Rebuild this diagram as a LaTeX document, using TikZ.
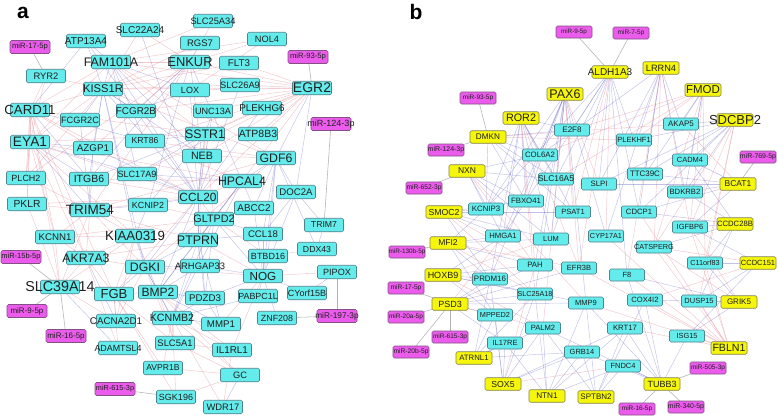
\documentclass[tikz,border=0pt]{standalone}
\usepackage{fontspec}
\setmainfont{Liberation Sans}
\pgfdeclarelayer{edges}
\pgfsetlayers{edges,main}
\definecolor{cyf}{RGB}{100,236,236}
\definecolor{cyd}{RGB}{80,130,140}
\definecolor{mgf}{RGB}{236,92,236}
\definecolor{mgd}{RGB}{130,80,130}
\definecolor{ylf}{RGB}{246,246,10}
\definecolor{yld}{RGB}{130,130,80}
\definecolor{ered}{RGB}{228,130,145}
\definecolor{eblu}{RGB}{100,100,200}
\tikzset{
 bx/.style={draw, rounded corners=1.5pt, line width=0.6pt, inner sep=0pt},
 ca/.style={bx, draw=cyd, fill=cyf, minimum width=39pt, minimum height=13.5pt},
 ma/.style={bx, draw=mgd, fill=mgf, minimum width=40pt, minimum height=13pt},
 cb/.style={bx, draw=cyd, fill=cyf, minimum width=35pt, minimum height=12pt},
 mb/.style={bx, draw=mgd, fill=mgf, minimum width=36pt, minimum height=12pt},
 yb/.style={bx, draw=yld, fill=ylf, minimum width=36pt, minimum height=12.5pt},
 txt/.style={inner sep=0pt, text=black!88},
 er/.style={ered, line width=0.45pt, opacity=0.45},
 eb/.style={eblu, line width=0.45pt, opacity=0.4},
 eg/.style={gray, line width=0.55pt, opacity=0.6},
 panel/.style={inner sep=0pt, font=\bfseries\fontsize{21}{21}\selectfont}
}
\newcommand\fs[1]{\fontsize{#1}{#1}\selectfont}
\newcommand\gn[6]{\node[#1] (#2) at (#3,#4) {}; \node[txt] (#2-t) at (#3,#4) {\fs{#5}#6};}
\newcommand\hub[3]{\foreach \tg in {#3} {\draw[#1] (#2.center) -- (\tg.center);}}
\begin{document}
\begin{tikzpicture}[x=1pt,y=-1pt]
\useasboundingbox (0,0) rectangle (778,418);
\node[panel] (la) at (23,13) {a};
\node[panel] (lb) at (416,12) {b};
% ---------- panel a nodes
\gn{ma}{mir17a}{30}{47}{7.7}{miR-17-5p}
\gn{ca}{atp13a4}{86}{41}{10}{ATP13A4}
\gn{ca}{slc22a24}{140}{30}{10}{SLC22A24}
\gn{ca}{slc25a34}{213}{21}{9.3}{SLC25A34}
\gn{ca}{rgs7}{200}{43}{9.5}{RGS7}
\gn{ca}{nol4}{267}{39}{9.2}{NOL4}
\gn{ca}{fam101a}{111}{62}{12.4}{FAM101A}
\gn{ca}{enkur}{190}{62}{12.9}{ENKUR}
\gn{ca}{flt3}{239}{63}{9.8}{FLT3}
\gn{ma}{mir93a}{308}{57}{7.7}{miR-93-5p}
\gn{ca}{ryr2}{46}{76}{9.4}{RYR2}
\gn{ca}{kiss1r}{103}{89}{11.2}{KISS1R}
\gn{ca}{lox}{190}{90}{9}{LOX}
\gn{ca}{slc26a9}{240}{85}{9.3}{SLC26A9}
\gn{ca}{egr2}{312}{88}{14}{EGR2}
\gn{ca}{card11}{30}{110}{13.2}{CARD11}
\gn{ca}{fcgr2c}{80}{120}{9.2}{FCGR2C}
\gn{ca}{fcgr2b}{136}{111}{9.9}{FCGR2B}
\gn{ca}{unc13a}{213}{111}{9.1}{UNC13A}
\gn{ca}{plekhg6}{262}{108}{9.8}{PLEKHG6}
\gn{ma}{mir124a}{331}{124}{9}{miR-124-3p}
\gn{ca}{sstr1}{205}{134}{12.4}{SSTR1}
\gn{ca}{atp8b3}{258}{134}{10.5}{ATP8B3}
\gn{ca}{eya1}{30}{142}{13.7}{EYA1}
\gn{ca}{azgp1}{93}{148}{9.8}{AZGP1}
\gn{ca}{krt86}{145}{141}{8.7}{KRT86}
\gn{ca}{neb}{202}{156}{10.7}{NEB}
\gn{ca}{gdf6}{276}{158}{12.3}{GDF6}
\gn{ca}{plch2}{26}{178}{9}{PLCH2}
\gn{ca}{itgb6}{89}{179}{10.5}{ITGB6}
\gn{ca}{slc17a9}{137}{174}{9.1}{SLC17A9}
\gn{ca}{hpcal4}{242}{181}{12.3}{HPCAL4}
\gn{ca}{doc2a}{296}{192}{9.6}{DOC2A}
\gn{ca}{ccl20}{198}{197}{11.9}{CCL20}
\gn{ca}{pklr}{27}{204}{10.3}{PKLR}
\gn{ca}{trim54}{90}{210}{13.5}{TRIM54}
\gn{ca}{kcnip2}{148}{205}{8.9}{KCNIP2}
\gn{ca}{abcc2}{254}{208}{9.9}{ABCC2}
\gn{ca}{gltpd2}{214}{219}{10.8}{GLTPD2}
\gn{ca}{ccl18}{263}{234}{9.6}{CCL18}
\gn{ca}{trim7}{324}{225}{8.7}{TRIM7}
\gn{ca}{kcnn1}{55}{237}{9.7}{KCNN1}
\gn{ca}{kiaa0319}{135}{236}{13.3}{KIAA0319}
\gn{ca}{ptprn}{198}{240}{12.4}{PTPRN}
\gn{ca}{ddx43}{317}{249}{8.7}{DDX43}
\gn{ma}{mir15b}{21}{257}{7.5}{miR-15b-5p}
\gn{ca}{akr7a3}{86}{258}{12.3}{AKR7A3}
\gn{ca}{dgki}{145}{267}{12.3}{DGKI}
\gn{ca}{arhgap33}{200}{266}{9.4}{ARHGAP33}
\gn{ca}{btbd16}{268}{256}{9}{BTBD16}
\gn{ca}{pipox}{337}{272}{9.1}{PIPOX}
\gn{ca}{nog}{263}{276}{11.7}{NOG}
\gn{ca}{slc39a14}{60}{287}{14.3}{SLC39A14}
\gn{ca}{fgb}{114}{294}{13.1}{FGB}
\gn{ca}{bmp2}{158}{292}{12.1}{BMP2}
\gn{ca}{pdzd3}{205}{298}{9.7}{PDZD3}
\gn{ca}{pabpc1l}{258}{296}{8.9}{PABPC1L}
\gn{ca}{cyorf15b}{307}{293}{9}{CYorf15B}
\gn{ma}{mir9a}{27}{311}{8}{miR-9-5p}
\gn{ca}{cacna2d1}{116}{321}{9.75}{CACNA2D1}
\gn{ca}{kcnmb2}{172}{318}{10.6}{KCNMB2}
\gn{ca}{mmp1}{221}{324}{9.7}{MMP1}
\gn{ca}{znf208}{277}{318}{8.9}{ZNF208}
\gn{ma}{mir197}{337}{316}{8.3}{miR-197-3p}
\gn{ma}{mir16a}{66}{336}{8}{miR-16-5p}
\gn{ca}{adamtsl4}{118}{348}{8.9}{ADAMTSL4}
\gn{ca}{slc5a1}{175}{343}{9.4}{SLC5A1}
\gn{ca}{il1rl1}{232}{350}{9.9}{IL1RL1}
\gn{ca}{avpr1b}{163}{368}{8.6}{AVPR1B}
\gn{ca}{gc}{240}{375}{9.3}{GC}
\gn{ma}{mir615a}{115}{389}{7.3}{miR-615-3p}
\gn{ca}{sgk196}{176}{397}{9}{SGK196}
\gn{ca}{wdr17}{223}{407}{9.4}{WDR17}
% ---------- panel b nodes
\gn{mb}{mir9b}{574}{32}{6.3}{miR-9-5p}
\gn{mb}{mir7b}{631}{33}{6.5}{miR-7-5p}
\gn{yb}{aldh1a3}{610}{72}{10}{ALDH1A3}
\gn{yb}{lrrn4}{661}{68}{9.2}{LRRN4}
\gn{yb}{pax6}{565}{94}{12.5}{PAX6}
\gn{yb}{fmod}{703}{90}{11.5}{FMOD}
\gn{mb}{mir93b}{478}{98}{6.5}{miR-93-5p}
\gn{yb}{ror2}{521}{118}{10.8}{ROR2}
\gn{yb}{sdcbp2}{735}{120}{13}{SDCBP2}
\gn{cb}{akap5}{681}{124}{8}{AKAP5}
\gn{cb}{e2f8}{572}{130}{8}{E2F8}
\gn{cb}{plekhf1}{634}{140}{7.5}{PLEKHF1}
\gn{yb}{dmkn}{488}{137}{8.2}{DMKN}
\gn{mb}{mir124b}{446}{150}{7}{miR-124-3p}
\gn{cb}{col6a2}{540}{155}{7.8}{COL6A2}
\gn{yb}{nxn}{467}{171}{8.5}{NXN}
\gn{cb}{slc16a5}{556}{179}{8.4}{SLC16A5}
\gn{cb}{slpi}{599}{184}{7.8}{SLPI}
\gn{cb}{ttc39c}{645}{174}{7.9}{TTC39C}
\gn{cb}{cadm4}{690}{160}{7.5}{CADM4}
\gn{mb}{mir769}{758}{157}{6.9}{miR-769-5p}
\gn{yb}{bcat1}{738}{184}{8.5}{BCAT1}
\gn{cb}{bdkrb2}{685}{192}{7.7}{BDKRB2}
\gn{mb}{mir652}{424}{188}{6.7}{miR-652-3p}
\gn{cb}{fbxo41}{526}{201}{7.8}{FBXO41}
\gn{cb}{kcnip3}{486}{209}{7.8}{KCNIP3}
\gn{yb}{smoc2}{444}{212}{8.7}{SMOC2}
\gn{cb}{psat1}{573}{212}{7.6}{PSAT1}
\gn{cb}{cdcp1}{639}{212}{7.7}{CDCP1}
\gn{cb}{igfbp6}{690}{227}{7.5}{IGFBP6}
\gn{yb}{ccdc28b}{735}{224}{7.7}{CCDC28B}
\gn{cb}{hmga1}{503}{236}{7.7}{HMGA1}
\gn{cb}{lum}{551}{239}{7.5}{LUM}
\gn{cb}{cyp17a1}{606}{236}{7.3}{CYP17A1}
\gn{cb}{catsperg}{654}{247}{7.3}{CATSPERG}
\gn{yb}{mfi2}{448}{243}{8.5}{MFI2}
\gn{mb}{mir130b}{407}{252}{6.4}{miR-130b-5p}
\gn{cb}{c11orf83}{705}{263}{7.3}{C11orf83}
\gn{yb}{ccdc151}{758}{263}{7.5}{CCDC151}
\gn{cb}{pah}{535}{265}{7.8}{PAH}
\gn{cb}{efr3b}{579}{268}{7.5}{EFR3B}
\gn{yb}{hoxb9}{443}{275}{9}{HOXB9}
\gn{cb}{prdm16}{490}{279}{7.9}{PRDM16}
\gn{cb}{f8}{627}{275}{7.5}{F8}
\gn{mb}{mir17b}{406}{288}{6.6}{miR-17-5p}
\gn{cb}{slc25a18}{535}{294}{7.2}{SLC25A18}
\gn{yb}{psd3}{450}{304}{9}{PSD3}
\gn{cb}{mmp9}{586}{303}{7.5}{MMP9}
\gn{cb}{cox4i2}{645}{300}{7.6}{COX4I2}
\gn{cb}{dusp15}{699}{301}{7.5}{DUSP15}
\gn{yb}{grik5}{739}{302}{8}{GRIK5}
\gn{mb}{mir20a}{406}{317}{6.5}{miR-20a-5p}
\gn{cb}{mpped2}{495}{315}{7.3}{MPPED2}
\gn{cb}{palm2}{543}{328}{7.6}{PALM2}
\gn{cb}{krt17}{625}{328}{7.7}{KRT17}
\gn{mb}{mir615b}{450}{337}{6.5}{miR-615-3p}
\gn{cb}{il17re}{505}{343}{7.5}{IL17RE}
\gn{cb}{isg15}{687}{336}{7.4}{ISG15}
\gn{yb}{fbln1}{729}{348}{10.6}{FBLN1}
\gn{cb}{grb14}{582}{352}{7.5}{GRB14}
\gn{mb}{mir20b}{411}{352}{6.7}{miR-20b-5p}
\gn{yb}{atrnl1}{474}{358}{7.8}{ATRNL1}
\gn{cb}{fndc4}{623}{366}{7.5}{FNDC4}
\gn{mb}{mir505}{708}{368}{6.5}{miR-505-3p}
\gn{yb}{sox5}{503}{384}{8.7}{SOX5}
\gn{yb}{tubb3}{662}{384}{9}{TUBB3}
\gn{yb}{ntn1}{547}{396}{8.2}{NTN1}
\gn{yb}{sptbn2}{596}{397}{8}{SPTBN2}
\gn{mb}{mir16b}{637}{409}{6.5}{miR-16-5p}
\gn{mb}{mir340}{686}{407}{6.9}{miR-340-5p}
% ---------- edges
\begin{pgfonlayer}{edges}
\fill[white] (0,0) rectangle (778,418);
% panel a
\hub{eb}{fam101a}{kiss1r,ccl20,lox,atp13a4,krt86,slc17a9,neb}
\hub{er}{fam101a}{enkur,sstr1,nol4,card11,eya1,gdf6}
\hub{er}{enkur}{slc22a24,rgs7,egr2,trim54,slc25a34,azgp1,plch2}
\hub{eb}{enkur}{hpcal4,neb,kcnip2,fcgr2b,itgb6}
\hub{er}{kiss1r}{card11,eya1,gdf6,slc26a9,plch2,nol4}
\hub{eb}{kiss1r}{fcgr2b,azgp1,ccl20,neb,itgb6,kiaa0319,dgki}
\hub{er}{card11}{eya1,ryr2,plch2,pklr,azgp1,kcnn1,akr7a3,slc39a14,fgb,ccl20}
\hub{eb}{card11}{krt86,itgb6}
\hub{er}{egr2}{lox,slc26a9,unc13a,flt3,sstr1,neb,ccl20,atp8b3,slc17a9,kiss1r,fcgr2b,krt86,hpcal4,fam101a}
\hub{eb}{egr2}{gdf6,doc2a}
\hub{eb}{sstr1}{krt86,slc17a9,ccl20,kcnip2,itgb6,unc13a}
\hub{er}{sstr1}{gltpd2,ptprn,eya1,card11}
\hub{eb}{eya1}{azgp1,itgb6,trim54,slc17a9}
\hub{er}{eya1}{plch2,pklr,kcnn1,ccl20,kiaa0319,akr7a3,hpcal4}
\hub{eb}{gdf6}{hpcal4,doc2a,ccl18,btbd16,abcc2,nog}
\hub{er}{gdf6}{neb,krt86,dgki,trim54}
\hub{er}{hpcal4}{ccl20,ptprn,krt86,itgb6}
\hub{eb}{hpcal4}{gltpd2,abcc2,slc17a9,bmp2,kcnmb2}
\hub{eb}{ccl20}{kcnip2,slc17a9,ptprn,dgki,bmp2,pdzd3,neb,azgp1}
\hub{er}{ccl20}{itgb6,trim54,gltpd2,fgb,pklr}
\hub{eb}{trim54}{itgb6,azgp1,kcnip2}
\hub{er}{trim54}{kcnn1,pklr,akr7a3,kiaa0319,plch2,slc39a14,dgki,ptprn}
\hub{eb}{gltpd2}{ptprn,ccl18,nog,kcnmb2,pdzd3}
\hub{er}{gltpd2}{kcnip2,abcc2,btbd16,kcnn1}
\hub{eb}{kiaa0319}{kcnip2,dgki,bmp2}
\hub{er}{kiaa0319}{akr7a3,fgb,kcnn1,cacna2d1}
\hub{eb}{ptprn}{dgki,arhgap33,bmp2,kcnmb2,pdzd3,mmp1,ccl18}
\hub{er}{ptprn}{nog,akr7a3}
\hub{er}{akr7a3}{slc39a14,fgb,dgki,kcnn1,adamtsl4}
\hub{eb}{akr7a3}{cacna2d1}
\hub{eb}{dgki}{fgb,bmp2,arhgap33,kcnmb2}
\hub{er}{dgki}{cacna2d1,slc5a1,nog}
\hub{eb}{nog}{pabpc1l,cyorf15b,pdzd3,znf208,ccl18,doc2a,abcc2,arhgap33}
\hub{er}{nog}{btbd16,mmp1,pipox,il1rl1}
\hub{er}{slc39a14}{fgb,kcnn1,pklr,cacna2d1,kiaa0319}
\hub{eb}{slc39a14}{adamtsl4}
\hub{eb}{fgb}{bmp2,cacna2d1}
\hub{er}{fgb}{adamtsl4,slc5a1,avpr1b,sgk196}
\hub{eb}{bmp2}{kcnmb2,arhgap33,pdzd3,mmp1}
\hub{er}{bmp2}{slc5a1,il1rl1,gc}
\hub{eb}{kcnmb2}{pdzd3,mmp1,pabpc1l}
\hub{er}{kcnmb2}{slc5a1,avpr1b,il1rl1,wdr17,gc,sgk196}
\hub{er}{gc}{sgk196,avpr1b,slc5a1}
\hub{eb}{gc}{wdr17}
\hub{er}{il1rl1}{wdr17,slc5a1}
\hub{eb}{mmp1}{pdzd3}
\hub{eb}{trim7}{doc2a,ddx43}
\hub{eb}{ddx43}{gdf6}
\hub{er}{ddx43}{btbd16}
\hub{eb}{pipox}{cyorf15b}
\hub{eb}{doc2a}{ccl18}
\hub{eb}{atp13a4}{kiss1r,card11,fcgr2b}
\hub{er}{slc22a24}{kiss1r}
\hub{eb}{slc22a24}{ccl20}
\hub{er}{ryr2}{kiss1r,eya1}
\hub{eb}{lox}{fcgr2b,ccl20}
\hub{eb}{fcgr2c}{kiss1r,trim54}
\hub{eb}{fcgr2b}{ccl20}
\hub{eb}{unc13a}{ccl20}
\hub{er}{plekhg6}{egr2,sstr1}
\hub{eb}{plekhg6}{ccl20}
\hub{er}{rgs7}{kiss1r}
\hub{er}{slc25a34}{fam101a}
\hub{er}{flt3}{kiss1r}
\hub{eb}{slc26a9}{ccl20}
\hub{er}{nol4}{lox}
\hub{eg}{mir17a}{ryr2}
\hub{eg}{mir93a}{egr2}
\hub{eg}{mir124a}{trim7}
\hub{eg}{mir197}{pipox,znf208}
\hub{eg}{mir615a}{sgk196}
\hub{eg}{mir16a}{slc39a14}
\hub{eg}{mir9a}{slc39a14}
\hub{eg}{mir15b}{slc39a14}
% panel b
\hub{eb}{pax6}{e2f8,col6a2,slc16a5,fbxo41,kcnip3,hmga1,lum,pah,slc25a18,prdm16,cyp17a1,mmp9}
\hub{er}{pax6}{psat1,efr3b,slpi,palm2}
\hub{eb}{aldh1a3}{plekhf1,slpi,slc16a5,e2f8,cdcp1,lum,f8,kcnip3,hmga1}
\hub{er}{aldh1a3}{psat1,cyp17a1,efr3b}
\hub{eb}{lrrn4}{akap5,plekhf1,ttc39c,slpi,cdcp1,cyp17a1,col6a2,bdkrb2}
\hub{er}{lrrn4}{catsperg,f8,igfbp6}
\hub{er}{fmod}{e2f8,col6a2,slc16a5,plekhf1,igfbp6,catsperg,c11orf83}
\hub{eb}{fmod}{akap5,ttc39c,cadm4,bdkrb2}
\hub{eb}{sdcbp2}{akap5,cadm4,bdkrb2,ttc39c,cdcp1,plekhf1,slpi}
\hub{er}{sdcbp2}{igfbp6,c11orf83,catsperg,dusp15}
\hub{eb}{ror2}{e2f8,col6a2,slc16a5,fbxo41,kcnip3,hmga1,lum,psat1,prdm16}
\hub{er}{ror2}{pah,slc25a18,efr3b}
\hub{eb}{dmkn}{col6a2,e2f8,slc16a5,fbxo41,kcnip3,psat1}
\hub{er}{dmkn}{plekhf1,akap5}
\hub{eb}{nxn}{fbxo41,kcnip3,col6a2,hmga1,slc16a5,lum}
\hub{er}{nxn}{pah,mmp9}
\hub{eb}{smoc2}{kcnip3,hmga1,fbxo41,lum,prdm16,psat1}
\hub{er}{smoc2}{pah,slc25a18}
\hub{eb}{mfi2}{hmga1,kcnip3,prdm16,pah,lum,mpped2}
\hub{er}{mfi2}{slc25a18,efr3b}
\hub{eb}{hoxb9}{prdm16,pah,slc25a18,mpped2,hmga1,mmp9}
\hub{er}{hoxb9}{palm2,lum}
\hub{eb}{psd3}{prdm16,mpped2,slc25a18,pah,il17re,mmp9,efr3b}
\hub{er}{psd3}{palm2,hmga1}
\hub{eb}{atrnl1}{mpped2,il17re,prdm16,slc25a18,palm2,grb14}
\hub{eb}{sox5}{il17re,mpped2,palm2,grb14,prdm16,slc25a18,krt17}
\hub{er}{sox5}{pah,fndc4}
\hub{eb}{ntn1}{palm2,grb14,il17re,fndc4,mmp9,krt17,slc25a18}
\hub{eb}{sptbn2}{grb14,fndc4,krt17,palm2,mmp9,cox4i2}
\hub{eb}{tubb3}{fndc4,krt17,isg15,cox4i2,grb14,mmp9,f8,palm2}
\hub{er}{fbln1}{isg15,dusp15,cox4i2,f8,c11orf83,catsperg,igfbp6,krt17,cyp17a1,cdcp1,mmp9,efr3b}
\hub{eb}{grik5}{dusp15,c11orf83,isg15,cox4i2,f8}
\hub{er}{grik5}{igfbp6,catsperg}
\hub{eb}{ccdc151}{c11orf83,dusp15,isg15,igfbp6}
\hub{er}{ccdc151}{catsperg,cox4i2}
\hub{eb}{ccdc28b}{igfbp6,catsperg,c11orf83,bdkrb2,cdcp1,dusp15,cadm4}
\hub{eb}{bcat1}{cadm4,bdkrb2,ttc39c,igfbp6,cdcp1,slpi}
\hub{er}{bcat1}{akap5}
\hub{eg}{mir9b}{aldh1a3}
\hub{eg}{mir7b}{aldh1a3}
\hub{eg}{mir93b}{dmkn}
\hub{eg}{mir124b}{dmkn}
\hub{eg}{mir652}{nxn}
\hub{eg}{mir769}{bcat1}
\hub{eg}{mir130b}{mfi2}
\hub{eg}{mir17b}{psd3}
\hub{eg}{mir20a}{psd3}
\hub{eg}{mir615b}{psd3}
\hub{eg}{mir20b}{psd3}
\hub{eg}{mir505}{tubb3}
\hub{eg}{mir16b}{tubb3}
\hub{eg}{mir340}{tubb3}
\end{pgfonlayer}
\end{tikzpicture}
\end{document}
